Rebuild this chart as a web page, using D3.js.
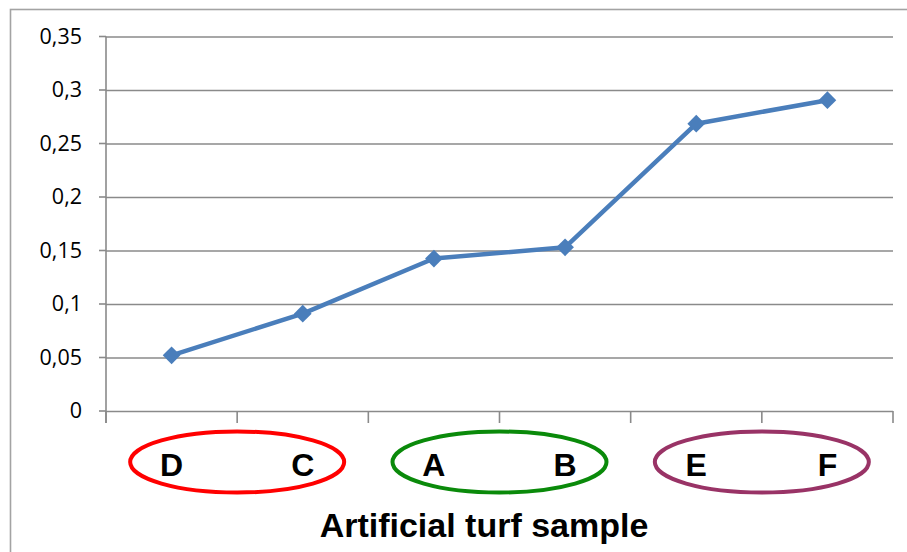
<!DOCTYPE html>
<html>
<head>
<meta charset="utf-8">
<script src="https://cdn.jsdelivr.net/npm/d3@7/dist/d3.min.js"></script>
<style>
  html, body { margin: 0; padding: 0; background: #fff; }
  svg { display: block; }
</style>
</head>
<body>
<svg id="chart" width="907" height="552"></svg>
<script>
// Sample names in plotted order and their measured values
const categories = ["D", "C", "A", "B", "E", "F"];
const values = [0.052, 0.091, 0.1425, 0.153, 0.2685, 0.2905];
const yTicks = [0, 0.05, 0.1, 0.15, 0.2, 0.25, 0.3, 0.35];
// Groups of samples circled under the axis
const groups = [
  { members: ["D", "C"], color: "#ff0000" },
  { members: ["A", "B"], color: "#0a8a0a" },
  { members: ["E", "F"], color: "#993366" }
];
const xTitle = "Artificial turf sample";

const svg = d3.select("#chart");
const W = 907, H = 552;
const plot = { left: 106, right: 893, top: 36.5, bottom: 411 };

// Outer chart frame (runs past the right and bottom edges)
svg.append("rect")
  .attr("x", 10.5).attr("y", 9.5)
  .attr("width", W).attr("height", H)
  .attr("fill", "none").attr("stroke", "#a3a3a3").attr("stroke-width", 1.6);

const x = d3.scaleBand().domain(categories).range([plot.left, plot.right]).padding(0);
const y = d3.scaleLinear().domain([0, 0.35]).range([plot.bottom, plot.top]);

const fmt = v => d3.format(".2~f")(v).replace(".", ",");

// Horizontal gridlines with y axis labels
const yAxis = d3.axisLeft(y)
  .tickValues(yTicks)
  .tickFormat(fmt)
  .tickSize(-(plot.right - plot.left))
  .tickPadding(24);

const gy = svg.append("g").attr("transform", `translate(${plot.left},0)`).call(yAxis);
gy.select(".domain").remove();
gy.selectAll(".tick line").attr("stroke", "#8a8a8a").attr("stroke-width", 1.6);
gy.selectAll(".tick text")
  .attr("font-family", "'Open Sans', sans-serif")
  .attr("font-size", 21.5)
  .attr("fill", "#000");

// Short outward ticks left of the y axis
svg.append("g").selectAll("line").data(yTicks).join("line")
  .attr("x1", plot.left - 7).attr("x2", plot.left)
  .attr("y1", d => y(d)).attr("y2", d => y(d))
  .attr("stroke", "#8a8a8a").attr("stroke-width", 1.6);

// Vertical axis line
svg.append("line")
  .attr("x1", plot.left).attr("x2", plot.left)
  .attr("y1", plot.top).attr("y2", plot.bottom + 12)
  .attr("stroke", "#8a8a8a").attr("stroke-width", 1.6);

// Category boundary ticks along the x axis
const boundaries = categories.map(c => x(c)).concat([x(categories[categories.length - 1]) + x.bandwidth()]);
svg.append("g").selectAll("line").data(boundaries).join("line")
  .attr("x1", d => d).attr("x2", d => d)
  .attr("y1", plot.bottom).attr("y2", plot.bottom + 12)
  .attr("stroke", "#8a8a8a").attr("stroke-width", 1.6);

// Group ellipses around the category labels
const labelY = 462;
svg.append("g").selectAll("ellipse").data(groups).join("ellipse")
  .attr("cx", g => (x(g.members[0]) + x(g.members[1]) + x.bandwidth()) / 2)
  .attr("cy", labelY)
  .attr("rx", 107)
  .attr("ry", 30.5)
  .attr("fill", "none")
  .attr("stroke", g => g.color)
  .attr("stroke-width", 4);

// Category labels
svg.append("g").selectAll("text").data(categories).join("text")
  .attr("x", c => x(c) + x.bandwidth() / 2)
  .attr("y", 476)
  .attr("text-anchor", "middle")
  .attr("font-family", "'Liberation Sans', Arial, sans-serif")
  .attr("font-weight", "bold")
  .attr("font-size", 32)
  .attr("fill", "#000")
  .text(c => c);

// X axis title
svg.append("text")
  .attr("x", 484).attr("y", 537)
  .attr("text-anchor", "middle")
  .attr("font-family", "'Liberation Sans', Arial, sans-serif")
  .attr("font-weight", "bold")
  .attr("font-size", 34)
  .attr("fill", "#000")
  .text(xTitle);

// Data line and diamond markers
const pts = categories.map((c, i) => [x(c) + x.bandwidth() / 2, y(values[i])]);
svg.append("path")
  .attr("d", d3.line()(pts))
  .attr("fill", "none")
  .attr("stroke", "#4a7ebb")
  .attr("stroke-width", 4.5)
  .attr("stroke-linejoin", "round");

const diamond = d3.symbol().type(d3.symbolDiamond2).size(200);
svg.append("g").selectAll("path").data(pts).join("path")
  .attr("transform", d => `translate(${d[0]},${d[1]})`)
  .attr("d", diamond)
  .attr("fill", "#4a7ebb");
</script>
</body>
</html>
